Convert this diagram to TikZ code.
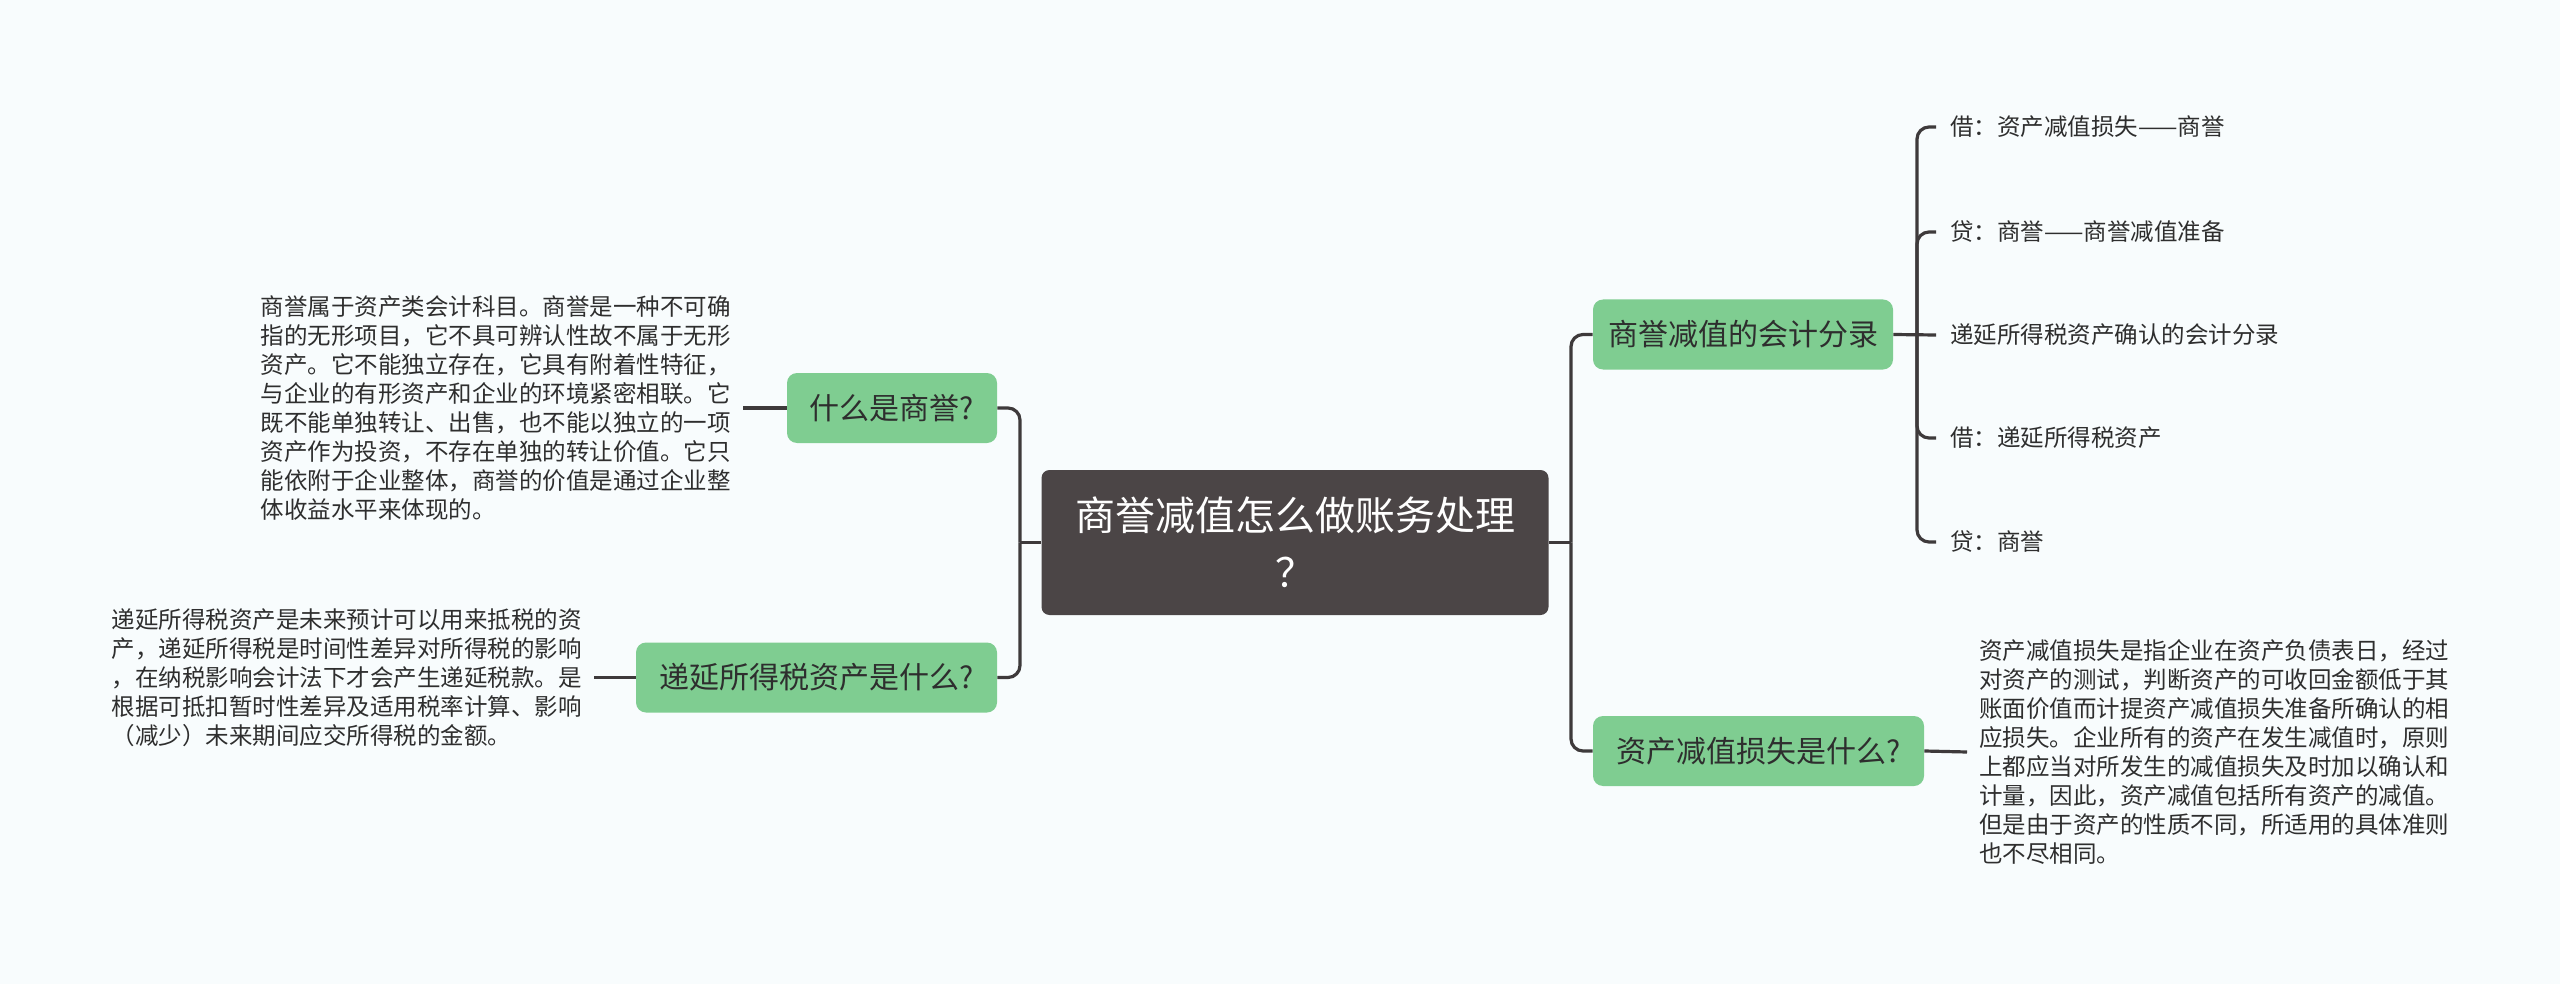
\documentclass[tikz,border=0pt]{standalone}
\usepackage{fontspec}
\setmainfont{Noto Sans CJK SC}
\definecolor{bgpale}{HTML}{F8FCFD}
\definecolor{rootgray}{HTML}{4B4546}
\definecolor{leafgreen}{HTML}{7FCD91}
\definecolor{linkgray}{HTML}{3E3A3B}
\definecolor{ink}{HTML}{2E2E2E}

\begin{document}
\begin{tikzpicture}[x=0.5pt,y=-0.5pt,
  link/.style={linkgray,line width=1.6pt},
  topic/.style={fill=leafgreen,text=ink,rounded corners=5pt,inner sep=0pt,
    minimum height=35pt,font=\fontsize{15}{18}\selectfont},
  note/.style={text=ink,align=left,inner xsep=6pt,inner ysep=0pt,
    font=\fontsize{11.75}{14.5}\selectfont},
  leaf/.style={text=ink,anchor=west,inner xsep=7pt,inner ysep=2pt,
    font=\fontsize{11.75}{14.5}\selectfont}]
  \fill[bgpale] (0,0) rectangle (2560,984);
  % root
  \node[fill=rootgray,text=white,rounded corners=4pt,minimum width=253.5pt,
        minimum height=72.5pt,align=center,font=\fontsize{20}{28.5}\selectfont]
        (root) at (1295,542.5) {商誉减值怎么做账务处理\\？};
  % left topics
  \node[topic,minimum width=105pt] (q1) at (892,408) {什么是商誉?};
  \node[topic,minimum width=180.5pt] (q2) at (816.5,677.5) {递延所得税资产是什么?};
  \node[note,anchor=east] (tb1) at (743,408) {商誉属于资产类会计科目。商誉是一种不可确\\
    指的无形项目，它不具可辨认性故不属于无形\\
    资产。它不能独立存在，它具有附着性特征，\\
    与企业的有形资产和企业的环境紧密相联。它\\
    既不能单独转让、出售，也不能以独立的一项\\
    资产作为投资，不存在单独的转让价值。它只\\
    能依附于企业整体，商誉的价值是通过企业整\\
    体收益水平来体现的。};
  \node[note,anchor=east] (tb2) at (594,677.5) {递延所得税资产是未来预计可以用来抵税的资\\
    产，递延所得税是时间性差异对所得税的影响\\
    ，在纳税影响会计法下才会产生递延税款。是\\
    根据可抵扣暂时性差异及适用税率计算、影响\\
    （减少）未来期间应交所得税的金额。};
  % right topics
  \node[topic,minimum width=150pt] (q3) at (1743,334.5) {商誉减值的会计分录};
  \node[topic,minimum width=165.5pt] (q4) at (1758.5,751) {资产减值损失是什么?};
  \node[note,anchor=west] (tb3) at (1967,752) {资产减值损失是指企业在资产负债表日，经过\\
    对资产的测试，判断资产的可收回金额低于其\\
    账面价值而计提资产减值损失准备所确认的相\\
    应损失。企业所有的资产在发生减值时，原则\\
    上都应当对所发生的减值损失及时加以确认和\\
    计量，因此，资产减值包括所有资产的减值。\\
    但是由于资产的性质不同，所适用的具体准则\\
    也不尽相同。};
  % entries under q3
  \node[leaf] (e1) at (1936,127) {借：资产减值损失——商誉};
  \node[leaf] (e2) at (1936,232) {贷：商誉——商誉减值准备};
  \node[leaf] (e3) at (1936,335) {递延所得税资产确认的会计分录};
  \node[leaf] (e4) at (1936,438) {借：递延所得税资产};
  \node[leaf] (e5) at (1936,542) {贷：商誉};
  % branch joints
  \coordinate (lj) at (1020,542.5);
  \coordinate (rj) at (1571,542.5);
  \coordinate (tj) at (1917,334.5);
  \draw[link] (root.west) -- (lj);
  \foreach \n in {q1,q2} \draw[link,rounded corners=6pt] (lj) |- (\n.east);
  \draw[link] (root.east) -- (rj);
  \foreach \n in {q3,q4} \draw[link,rounded corners=6pt] (rj) |- (\n.west);
  \draw[link] (q3.east) -- (e3.west);
  \foreach \n in {e1,e2,e4,e5} \draw[link,rounded corners=6pt] (tj) |- (\n.west);
  \draw[link] (tb1.east) -- (q1.west);
  \draw[link] (tb2.east) -- (q2.west);
  \draw[link] (q4.east) -- (tb3.west);
\end{tikzpicture}
\end{document}
